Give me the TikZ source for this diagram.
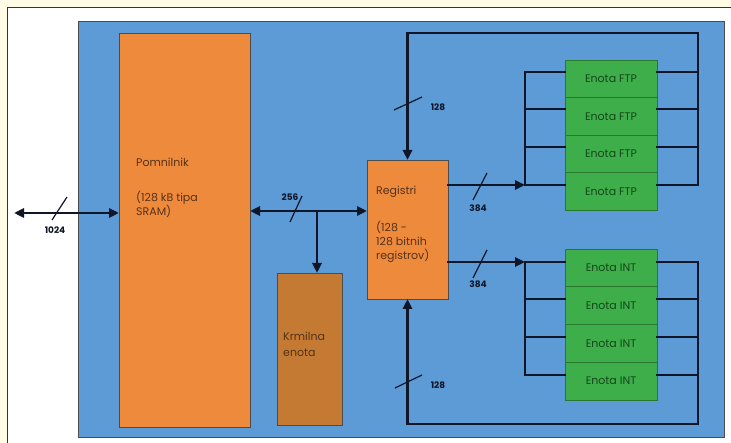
\documentclass[tikz,border=0pt]{standalone}
\usepackage{fontspec}
\setmainfont{Poppins}
\usepackage{xcolor}
\definecolor{bgcream}{RGB}{255,251,228}
\definecolor{chipblue}{RGB}{92,155,214}
\definecolor{memorange}{RGB}{238,138,60}
\definecolor{ctrlbrown}{RGB}{196,122,50}
\definecolor{unitgreen}{RGB}{61,174,73}
\definecolor{unitedge}{RGB}{40,120,45}
\definecolor{wire}{RGB}{16,22,40}
\definecolor{txtbrown}{RGB}{85,50,25}
\definecolor{txtgreen}{RGB}{22,70,28}
\usetikzlibrary{arrows.meta}

\begin{document}
\begin{tikzpicture}[x=1pt,y=-1pt,
  block/.style={draw=gray!60!black, line width=0.6pt, inner sep=0pt, outer sep=0pt},
  blocktext/.style={font=\fontsize{11}{14}\selectfont, text=txtbrown, align=left, inner sep=0pt, anchor=base west},
  unit/.style={block, fill=unitgreen, draw=unitedge, minimum width=92pt, minimum height=37.75pt, font=\fontsize{11}{13}\selectfont, text=txtgreen},
  bus/.style={draw=wire, line width=2.6pt, line cap=rect},
  busarrow/.style={bus, -{Triangle[length=10pt,width=9pt]}},
  busboth/.style={bus, {Triangle[length=10pt,width=9pt]}-{Triangle[length=10pt,width=9pt]}},
  slash/.style={draw=wire, line width=1.2pt},
  buslabel/.style={font=\fontsize{9}{10}\selectfont\bfseries, text=wire, inner sep=0pt}]
  \useasboundingbox (0,0) rectangle (731,443);

  % Background and panel
  \fill[bgcream] (0,0) rectangle (731,443);
  \draw[fill=white, draw=black!80, line width=1pt] (7,8) rectangle (745,455);

  % Chip
  \node[block, fill=chipblue, minimum width=646pt, minimum height=416pt] (chip) at (401,229) {};

  % Memory
  \node[block, fill=memorange, minimum width=131pt, minimum height=394pt] (mem) at (184.5,230) {};
  \node[blocktext] (memlbl) at (136,216) {Pomnilnik\\[21pt](128 kB tipa\\SRAM)};

  % Control unit
  \node[block, fill=ctrlbrown, minimum width=65pt, minimum height=152pt] (krm) at (309.5,349) {};
  \node[blocktext, font=\fontsize{11}{16}\selectfont] (krmlbl) at (283,357) {Krmilna\\enota};

  % Registers
  \node[block, fill=memorange, minimum width=81pt, minimum height=139pt] (reg) at (407.5,229.5) {};
  \node[blocktext] (reglbl) at (376,260) {Registri\\[23pt](128 -\\128 bitnih\\registrov)};

  % FTP units
  \node[unit] (ftp1) at (611,78.75) {Enota FTP};
  \node[unit] (ftp2) at (611,116.25) {Enota FTP};
  \node[unit] (ftp3) at (611,153.75) {Enota FTP};
  \node[unit] (ftp4) at (611,191.25) {Enota FTP};

  % INT units
  \node[unit] (int1) at (611,267.9) {Enota INT};
  \node[unit] (int2) at (611,305.6) {Enota INT};
  \node[unit] (int3) at (611,343.4) {Enota INT};
  \node[unit] (int4) at (611,381.1) {Enota INT};

  % External bus
  \coordinate (ext) at (14,213);
  \draw[busboth] (ext) -- (mem.west |- ext);
  \draw[slash] (52,220) -- (67,197);
  \node[buslabel] (extw) at (55,230) {1024};

  % Internal bus
  \coordinate (bus) at (317,211);
  \draw[busboth] (mem.east |- bus) -- (reg.west |- bus);
  \draw[busarrow] (bus) -- (krm.north -| bus);
  \draw[slash] (290,222) -- (302,196);
  \node[buslabel] (busw) at (290,197) {256};

  % FTP rails
  \coordinate (f1) at (525,72);
  \coordinate (f2) at (525,109);
  \coordinate (f3) at (525,147);
  \coordinate (f4) at (525,185);
  \coordinate (fr) at (698,33);
  \draw[busarrow] (reg.east |- f4) -- (f4);
  \draw[bus] (f1) -- (f4);
  \draw[bus] (f1) -- (f1 -| ftp1.west);
  \draw[bus] (f2) -- (f2 -| ftp2.west);
  \draw[bus] (f3) -- (f3 -| ftp3.west);
  \draw[bus] (f4) -- (f4 -| ftp4.west);
  \draw[bus] (ftp1.east |- f1) -- (f1 -| fr);
  \draw[bus] (ftp2.east |- f2) -- (f2 -| fr);
  \draw[bus] (ftp3.east |- f3) -- (f3 -| fr);
  \draw[bus] (ftp4.east |- f4) -- (f4 -| fr);
  \draw[busarrow] (f4 -| fr) -- (fr) -| (reg.north);
  \draw[slash] (473,200) -- (487,173);
  \node[buslabel] (ftpw) at (478,208) {384};
  \draw[slash] (394,110) -- (422,97);
  \node[buslabel] (ftpback) at (438,107) {128};

  % INT rails
  \coordinate (i1) at (525,262);
  \coordinate (i2) at (525,299);
  \coordinate (i3) at (525,337);
  \coordinate (i4) at (525,375);
  \coordinate (ir) at (698,424);
  \draw[busarrow] (reg.east |- i1) -- (i1);
  \draw[bus] (i1) -- (i4);
  \draw[bus] (i1) -- (i1 -| int1.west);
  \draw[bus] (i2) -- (i2 -| int2.west);
  \draw[bus] (i3) -- (i3 -| int3.west);
  \draw[bus] (i4) -- (i4 -| int4.west);
  \draw[bus] (int1.east |- i1) -- (i1 -| ir);
  \draw[bus] (int2.east |- i2) -- (i2 -| ir);
  \draw[bus] (int3.east |- i3) -- (i3 -| ir);
  \draw[bus] (int4.east |- i4) -- (i4 -| ir);
  \draw[busarrow] (i1 -| ir) -- (ir) -| (reg.south);
  \draw[slash] (473,278) -- (487,250);
  \node[buslabel] (intw) at (478,284) {384};
  \draw[slash] (395,388) -- (422,375);
  \node[buslabel] (intback) at (438,385) {128};
\end{tikzpicture}
\end{document}
